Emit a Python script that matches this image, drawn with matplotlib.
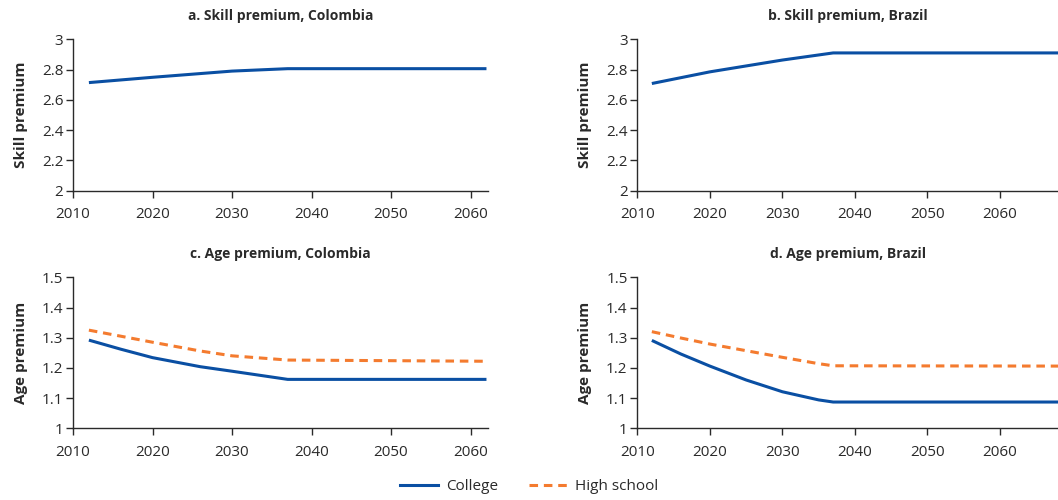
import matplotlib
matplotlib.use("Agg")
import matplotlib.pyplot as plt
from matplotlib.lines import Line2D

plt.rcParams['font.family'] = ['Open Sans', 'DejaVu Sans']

# data
skill_years = [2012, 2020, 2030, 2037, 2062]
skill_col = [2.714, 2.749, 2.790, 2.806, 2.806]
skill_years_br = [2012, 2020, 2030, 2037, 2068]
skill_br = [2.708, 2.785, 2.863, 2.910, 2.910]

age_years_col = [2012, 2016, 2020, 2026, 2030, 2037, 2062]
age_col_college = [1.292, 1.262, 1.234, 1.204, 1.189, 1.162, 1.162]
age_col_hs = [1.325, 1.305, 1.285, 1.256, 1.240, 1.226, 1.222]

age_years_br = [2012, 2016, 2020, 2025, 2030, 2035, 2037, 2068]
age_br_college = [1.291, 1.246, 1.206, 1.160, 1.121, 1.094, 1.087, 1.087]
age_br_hs = [1.320, 1.299, 1.279, 1.257, 1.235, 1.214, 1.207, 1.206]

blue = '#0a4fa3'
orange = '#f47b2f'
ink = '#2a2a2a'

fig = plt.figure(figsize=(10.58, 5.0), dpi=100)
ax_a = fig.add_axes([0.069, 0.6186, 0.3923, 0.3028])
ax_b = fig.add_axes([0.6024, 0.6186, 0.3976, 0.3028])
ax_c = fig.add_axes([0.069, 0.1434, 0.3923, 0.302])
ax_d = fig.add_axes([0.6024, 0.1434, 0.3976, 0.302])


def style(ax, title, ylabel, xmax, ylim, yticks):
    ax.set_xlim(2010, xmax)
    ax.set_ylim(*ylim)
    ax.set_xticks([2010, 2020, 2030, 2040, 2050, 2060])
    ax.set_yticks(yticks)
    ax.set_yticklabels(['%g' % v for v in yticks])
    for s in ['top', 'right']:
        ax.spines[s].set_visible(False)
    for s in ['left', 'bottom']:
        ax.spines[s].set_color(ink)
        ax.spines[s].set_linewidth(1.0)
    ax.tick_params(axis='both', colors=ink, labelsize=11, length=5, width=1.0, direction='out')
    ax.tick_params(axis='x', pad=7)
    ax.tick_params(axis='y', pad=2)
    ax.set_title(title, fontsize=10, fontweight='bold', color=ink, pad=14)
    ax.set_ylabel(ylabel, fontsize=11, fontweight='bold', color=ink, labelpad=10)


lw = 2.2
ax_a.plot(skill_years, skill_col, color=blue, lw=lw, solid_capstyle='butt')
ax_b.plot(skill_years_br, skill_br, color=blue, lw=lw, solid_capstyle='butt')
ax_c.plot(age_years_col, age_col_college, color=blue, lw=lw, solid_capstyle='butt')
ax_c.plot(age_years_col, age_col_hs, color=orange, lw=lw, dashes=(2.8, 1.9))
ax_d.plot(age_years_br, age_br_college, color=blue, lw=lw, solid_capstyle='butt')
ax_d.plot(age_years_br, age_br_hs, color=orange, lw=lw, dashes=(2.8, 1.9))

skill_ticks = [2, 2.2, 2.4, 2.6, 2.8, 3]
age_ticks = [1, 1.1, 1.2, 1.3, 1.4, 1.5]
style(ax_a, 'a. Skill premium, Colombia', 'Skill premium', 2062.2, (2, 3), skill_ticks)
style(ax_b, 'b. Skill premium, Brazil', 'Skill premium', 2068, (2, 3), skill_ticks)
style(ax_c, 'c. Age premium, Colombia', 'Age premium', 2062.2, (1, 1.5), age_ticks)
style(ax_d, 'd. Age premium, Brazil', 'Age premium', 2068, (1, 1.5), age_ticks)

handles = [Line2D([0], [0], color=blue, lw=lw),
           Line2D([0], [0], color=orange, lw=lw, dashes=(2.8, 1.9))]
fig.legend(handles, ['College', 'High school'], loc='center', bbox_to_anchor=(0.5, 0.026),
           ncol=2, frameon=False, fontsize=11, handlelength=2.5, columnspacing=2.0,
           handletextpad=0.5, labelcolor=ink)

fig.savefig('out.png', dpi=100)
